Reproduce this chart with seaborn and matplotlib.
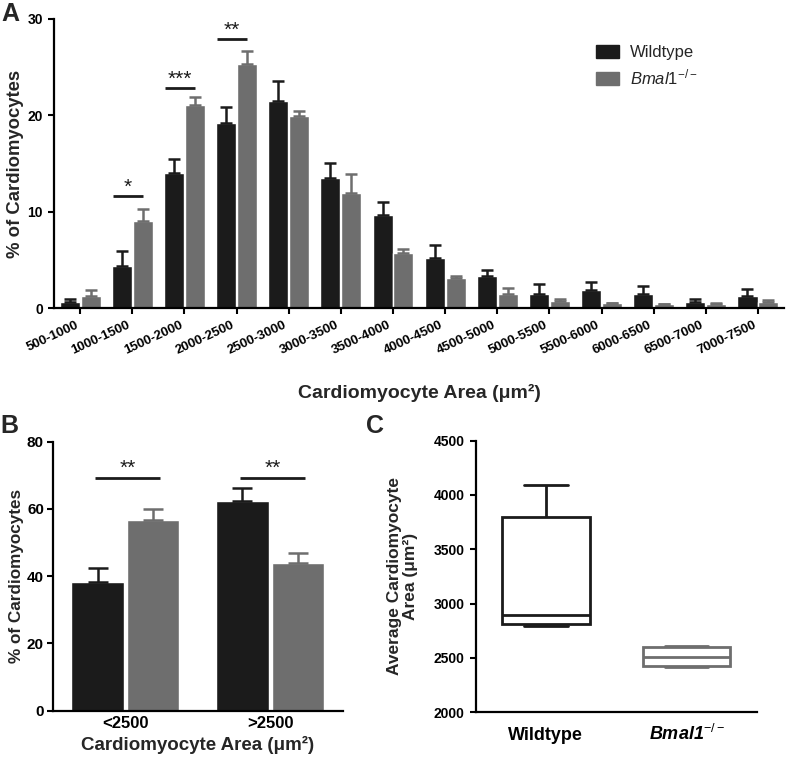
import matplotlib
matplotlib.use("Agg")
import matplotlib.pyplot as plt
import seaborn as sns
import pandas as pd
import numpy as np
from matplotlib.patches import Patch

# ---------------- data ----------------
bins = ["500-1000", "1000-1500", "1500-2000", "2000-2500", "2500-3000", "3000-3500",
        "3500-4000", "4000-4500", "4500-5000", "5000-5500", "5500-6000", "6000-6500",
        "6500-7000", "7000-7500"]
wt_mean = [0.65, 4.36, 14.05, 19.25, 21.5, 13.47, 9.66, 5.22, 3.32, 1.52, 1.87, 1.42, 0.6, 1.25]
wt_sem = [0.28, 1.59, 1.39, 1.65, 2.1, 1.63, 1.32, 1.32, 0.59, 0.94, 0.86, 0.86, 0.3, 0.69]
ko_mean = [1.28, 9.07, 21.1, 25.3, 19.9, 11.9, 5.74, 3.08, 1.45, 0.73, 0.5, 0.4, 0.45, 0.6]
ko_sem = [0.56, 1.23, 0.8, 1.4, 0.6, 2.0, 0.39, 0.27, 0.59, 0.24, 0.05, 0.05, 0.05, 0.27]
sigA_idx = [1, 2, 3]
sigA_y = [11.6, 22.8, 27.9]
sigA_txt = ["*", "***", "**"]

groupsB = ["<2500", ">2500"]
wtB_mean = [38.3, 62.4]
wtB_sem = [4.1, 3.8]
koB_mean = [56.75, 43.9]
koB_sem = [3.15, 2.9]
sigB_y = [69.3, 69.3]
sigB_txt = ["**", "**"]

genotypes = ["Wildtype", "Bmal1"]
wt_area = [2790, 2810, 2893, 3800, 4092]
ko_area = [2417, 2429, 2512, 2601, 2610]

BLACK = "#1b1b1b"
GREY = "#6e6e6e"

# ---------------- style ----------------
sns.set_style("ticks")
plt.rcParams["font.family"] = ["Liberation Sans", "DejaVu Sans"]
plt.rcParams["mathtext.fontset"] = "custom"
plt.rcParams["mathtext.rm"] = "Liberation Sans"
plt.rcParams["mathtext.it"] = "Liberation Sans:italic"
plt.rcParams["mathtext.bf"] = "Liberation Sans:bold"
plt.rcParams["mathtext.bfit"] = "Liberation Sans:bold:italic"

fig = plt.figure(figsize=(7.9, 7.59), dpi=100)
axA = fig.add_axes([0.0684, 0.594, 0.924, 0.381])
axB = fig.add_axes([0.067, 0.0636, 0.367, 0.3544])
axC = fig.add_axes([0.602, 0.0615, 0.356, 0.358])


def style_axis(ax):
    sns.despine(ax=ax)
    for s in ["left", "bottom"]:
        ax.spines[s].set_linewidth(1.6)
        ax.spines[s].set_color("black")
    ax.tick_params(width=1.5, length=4.5, color="black", labelcolor="black")


# ---------------- panel A ----------------
dfA = pd.DataFrame({"bin": bins * 2, "pct": wt_mean + ko_mean,
                    "group": ["Wildtype"] * len(bins) + ["Bmal1"] * len(bins)})
sns.barplot(data=dfA, x="bin", y="pct", hue="group", hue_order=genotypes,
            palette=[BLACK, GREY], width=0.8, gap=0.04, errorbar=None,
            saturation=1, legend=False, ax=axA)
for cont, sem, col in zip(axA.containers, [wt_sem, ko_sem], [BLACK, GREY]):
    xs = [p.get_x() + p.get_width() / 2 for p in cont]
    ys = [p.get_height() for p in cont]
    axA.errorbar(xs, ys, yerr=[np.zeros(len(sem)), sem], fmt="none", ecolor=col,
                 elinewidth=1.8, capsize=4.3, capthick=1.8, zorder=1)
for i, y, t in zip(sigA_idx, sigA_y, sigA_txt):
    x0, x1 = i - 0.37, i + 0.2
    axA.plot([x0, x1], [y, y], color=BLACK, lw=2.0, solid_capstyle="butt")
    axA.annotate(t, ((x0 + x1) / 2, y), xytext=(0, 2.5), textcoords="offset points",
                 ha="center", va="baseline", fontsize=15, color=BLACK)
axA.set_xlim(-0.5, len(bins) - 0.5)
axA.set_ylim(0, 30)
axA.set_yticks([0, 10, 20, 30])
style_axis(axA)
axA.tick_params(axis="x", labelsize=9.5)
axA.tick_params(axis="y", labelsize=10)
for lab in axA.get_xticklabels():
    lab.set_rotation(25)
    lab.set_ha("right")
    lab.set_fontweight("bold")
for lab in axA.get_yticklabels():
    lab.set_fontweight("bold")
axA.set_xlabel("Cardiomyocyte Area (\u03bcm\u00b2)", fontsize=14, fontweight="bold")
axA.set_ylabel("% of Cardiomyocytes", fontsize=13.3, fontweight="bold")
axA.xaxis.set_label_coords(0.5, -0.262)
axA.yaxis.set_label_coords(-0.041, 0.5)
handles = [Patch(facecolor=BLACK, edgecolor=BLACK), Patch(facecolor=GREY, edgecolor=GREY)]
axA.legend(handles, ["Wildtype", r"$\mathit{Bmal1}^{-/-}$"], loc="upper left",
           bbox_to_anchor=(0.742, 0.91), frameon=False, fontsize=12,
           handlelength=1.4, handleheight=0.8, handletextpad=0.65,
           labelspacing=0.45, borderpad=0, borderaxespad=0)

# ---------------- panel B ----------------
dfB = pd.DataFrame({"grp": groupsB * 2, "pct": wtB_mean + koB_mean,
                    "group": ["Wildtype"] * 2 + ["Bmal1"] * 2})
sns.barplot(data=dfB, x="grp", y="pct", hue="group", hue_order=genotypes,
            palette=[BLACK, GREY], width=0.77, gap=0.065, errorbar=None,
            saturation=1, legend=False, ax=axB)
for cont, sem, col in zip(axB.containers, [wtB_sem, koB_sem], [BLACK, GREY]):
    xs = [p.get_x() + p.get_width() / 2 for p in cont]
    ys = [p.get_height() for p in cont]
    axB.errorbar(xs, ys, yerr=[np.zeros(len(sem)), sem], fmt="none", ecolor=col,
                 elinewidth=1.8, capsize=7.5, capthick=1.8, zorder=1)
for i, (y, t) in enumerate(zip(sigB_y, sigB_txt)):
    x0, x1 = i - 0.21, i + 0.24
    axB.plot([x0, x1], [y, y], color=BLACK, lw=2.0, solid_capstyle="butt")
    axB.annotate(t, ((x0 + x1) / 2, y), xytext=(0, 2.5), textcoords="offset points",
                 ha="center", va="baseline", fontsize=15, color=BLACK)
axB.set_xlim(-0.5, 1.5)
axB.set_ylim(0, 80)
axB.set_yticks([0, 20, 40, 60, 80])
style_axis(axB)
axB.tick_params(axis="x", labelsize=12, length=0, pad=4)
axB.tick_params(axis="y", labelsize=11, pad=2)
for lab in axB.get_xticklabels() + axB.get_yticklabels():
    lab.set_fontweight("bold")
axB.set_xlabel("Cardiomyocyte Area (\u03bcm\u00b2)", fontsize=13.5, fontweight="bold")
axB.set_ylabel("% of Cardiomyocytes", fontsize=12.3, fontweight="bold")
axB.xaxis.set_label_coords(0.5, -0.092)
axB.yaxis.set_label_coords(-0.1, 0.5)

# ---------------- panel C ----------------
dfC = pd.DataFrame({"group": ["Wildtype"] * len(wt_area) + ["Bmal1"] * len(ko_area),
                    "area": wt_area + ko_area})
for g, col in zip(genotypes, [BLACK, GREY]):
    sns.boxplot(data=dfC[dfC["group"] == g], x="group", y="area", order=genotypes,
                whis=(0, 100), width=0.625, color="white", linecolor=col,
                linewidth=2, ax=axC)
axC.set_xlim(-0.5, 1.5)
axC.set_ylim(2000, 4500)
axC.set_yticks(np.arange(2000, 4501, 500))
style_axis(axC)
axC.tick_params(axis="y", labelsize=10)
axC.tick_params(axis="x", length=0, labelsize=13, pad=20)
axC.set_xticks([0, 1])
axC.set_xticklabels(["Wildtype", r"$\mathbfit{Bmal1}^{-/-}$"])
for lab in axC.get_xticklabels():
    lab.set_fontweight("bold")
    lab.set_va("baseline")
for lab in axC.get_yticklabels():
    lab.set_fontweight("bold")
axC.set_xlabel("")
axC.set_ylabel("Average Cardiomyocyte\nArea (\u03bcm\u00b2)", fontsize=12.5,
               fontweight="bold", linespacing=1.1)
axC.yaxis.set_label_coords(-0.205, 0.5)

# ---------------- panel letters ----------------
fig.text(0.002, 0.998, "A", fontsize=18, fontweight="bold", va="top", ha="left")
fig.text(0.0, 0.455, "B", fontsize=18, fontweight="bold", va="top", ha="left")
fig.text(0.463, 0.455, "C", fontsize=18, fontweight="bold", va="top", ha="left")

fig.savefig("out.png", dpi=100)
